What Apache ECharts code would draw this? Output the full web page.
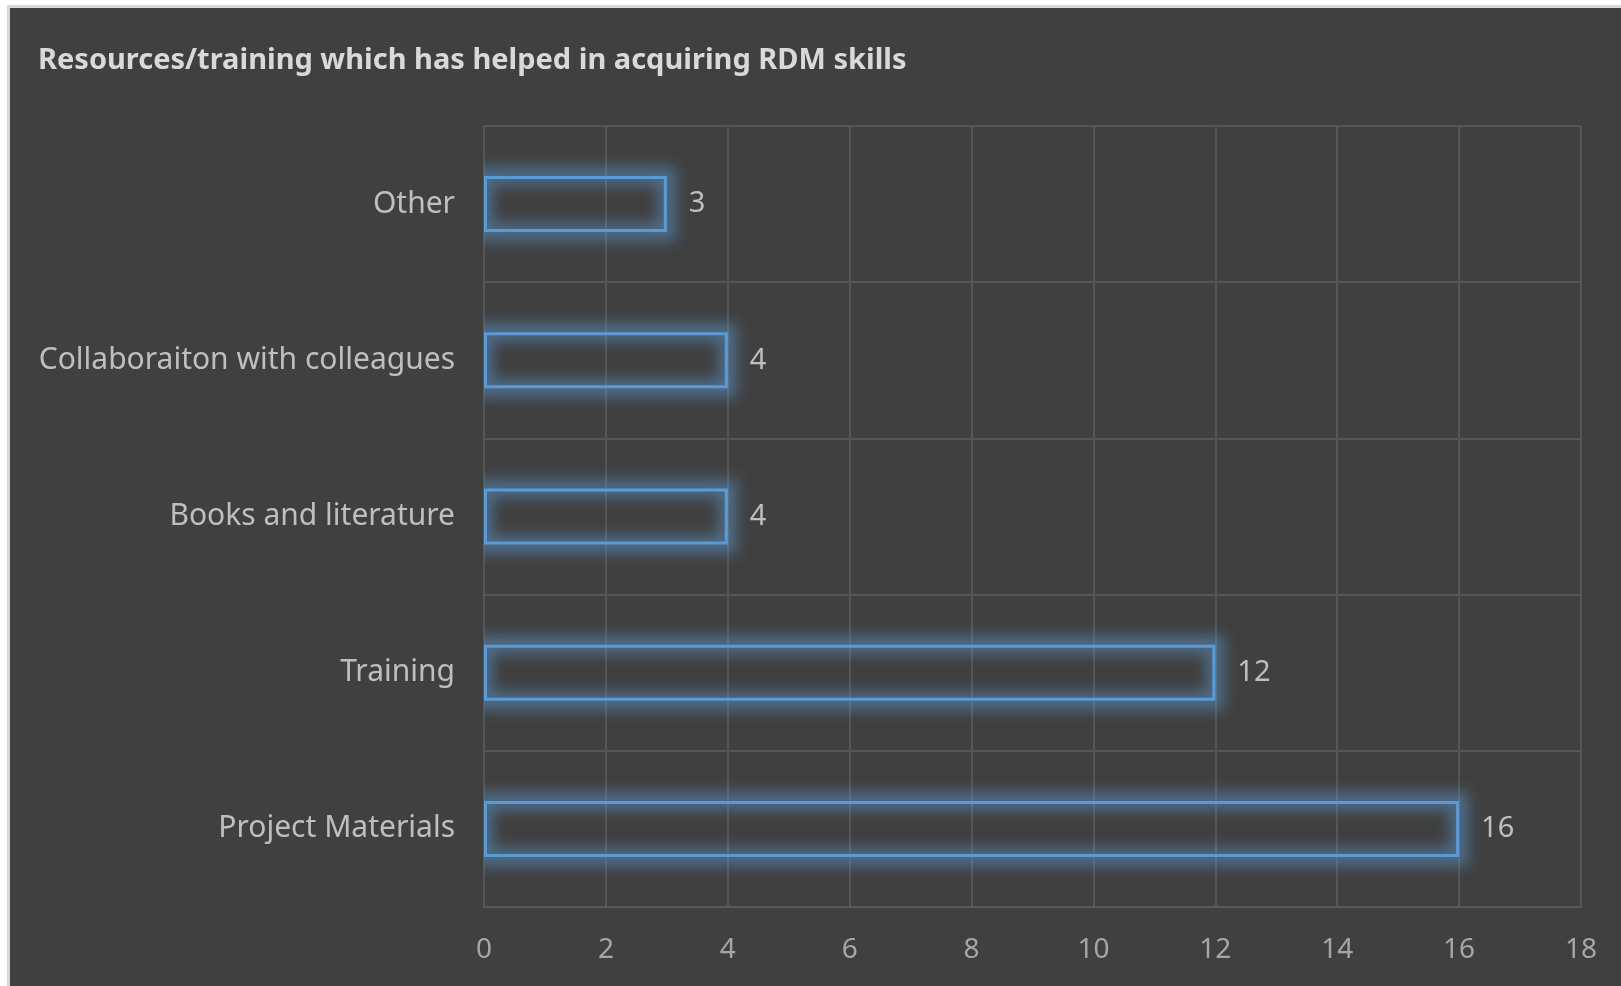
<!DOCTYPE html>
<html>
<head>
<meta charset="utf-8">
<script src="https://cdn.jsdelivr.net/npm/echarts@6/dist/echarts.min.js"></script>
<style>
  html, body { margin: 0; padding: 0; background: #ffffff; }
  #frame {
    position: absolute; left: 7px; top: 5px;
    width: 1614px; height: 981px;
    border-left: 3px solid #d6d6d6; border-top: 3px solid #d6d6d6;
    box-sizing: border-box;
  }
  #main { position: absolute; left: 10px; top: 8px; width: 1611px; height: 978px; }
</style>
</head>
<body>
<div id="frame"></div>
<div id="main"></div>
<script>
// categories listed bottom to top (echarts category y axis starts at the bottom)
var categories = ['Project Materials', 'Training', 'Books and literature', 'Collaboraiton with colleagues', 'Other'];
var counts = [16, 12, 4, 4, 3];
var xTicks = { min: 0, max: 18, interval: 2 };

var chart = echarts.init(document.getElementById('main'));
var labelFont = "'Noto Sans', sans-serif";
var BAR_H = 56;
var SHIFT = 4000; // glow shape drawn off canvas, only its shadow lands on the bar

var glowData = counts.map(function (v, i) { return [v, i]; });

chart.setOption({
    backgroundColor: '#404040',
    animation: false,
    title: {
        text: 'Resources/training which has helped in acquiring RDM skills',
        left: 23,
        top: 33,
        textStyle: {
            color: '#d9d9d9',
            fontSize: 29,
            fontWeight: 'bold',
            fontFamily: labelFont
        }
    },
    grid: {
        left: 474,
        right: 40,
        top: 118,
        bottom: 79,
        containLabel: false
    },
    xAxis: {
        type: 'value',
        min: xTicks.min,
        max: xTicks.max,
        interval: xTicks.interval,
        axisLine: { show: true, lineStyle: { color: '#595959', width: 2 } },
        axisTick: { show: false },
        axisLabel: {
            color: '#a6a6a6',
            fontSize: 28,
            fontFamily: labelFont,
            margin: 29
        },
        splitLine: { show: true, lineStyle: { color: '#565656', width: 2 } }
    },
    yAxis: {
        type: 'category',
        data: categories,
        axisLine: { show: false },
        axisTick: { show: false },
        axisLabel: {
            color: '#bfbfbf',
            fontSize: 30,
            fontFamily: labelFont,
            margin: 29
        },
        splitLine: { show: true, lineStyle: { color: '#565656', width: 2 } }
    },
    series: [
        {
            type: 'custom',
            data: glowData,
            encode: { x: 0, y: 1 },
            clip: true,
            silent: true,
            z: 1,
            renderItem: function (params, api) {
                var p0 = api.coord([0, api.value(1)]);
                var p1 = api.coord([api.value(0), api.value(1)]);
                return {
                    type: 'rect',
                    shape: {
                        x: p0[0] + SHIFT,
                        y: p0[1] - BAR_H / 2,
                        width: p1[0] - p0[0],
                        height: BAR_H
                    },
                    style: {
                        fill: 'none',
                        stroke: '#5b9bd5',
                        lineWidth: 18,
                        shadowBlur: 14,
                        shadowColor: 'rgba(91,155,213,0.5)',
                        shadowOffsetX: -SHIFT
                    }
                };
            }
        },
        {
            type: 'bar',
            data: counts,
            barWidth: BAR_H,
            z: 2,
            itemStyle: {
                color: 'rgba(64,64,64,0)',
                borderColor: '#5b9bd5',
                borderWidth: 3
            },
            label: {
                show: true,
                position: 'right',
                distance: 22,
                color: '#bfbfbf',
                fontSize: 29,
                fontFamily: labelFont
            }
        }
    ]
});
</script>
</body>
</html>
